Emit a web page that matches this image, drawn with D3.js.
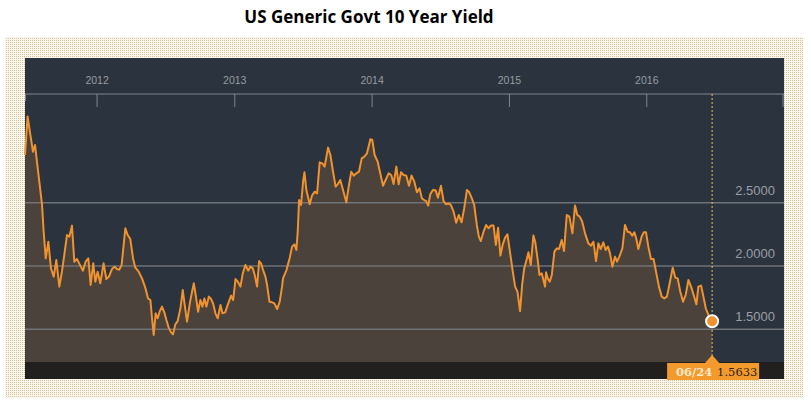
<!DOCTYPE html>
<html>
<head>
<meta charset="utf-8">
<script src="https://cdn.jsdelivr.net/npm/d3@7"></script>
<style>
  html, body { margin: 0; padding: 0; background: #ffffff; }
  svg { display: block; }
</style>
</head>
<body>
<svg id="chart" width="811" height="402"></svg>
<script>
// ---- Data (decimal year, 10Y yield %) ----
const title = "US Generic Govt 10 Year Yield";
const yearTicks = [2012, 2013, 2014, 2015, 2016];
const yieldTicks = [1.5, 2.0, 2.5];
const lastLabelDate = "06/24";
const lastLabelValue = "1.5633";

const dates = [
  2011.479, 2011.498, 2011.518, 2011.537, 2011.552, 2011.566, 2011.586, 2011.603, 2011.615, 2011.630,
  2011.649, 2011.668, 2011.688, 2011.707, 2011.729, 2011.748, 2011.765, 2011.785, 2011.802, 2011.821,
  2011.838, 2011.857, 2011.877, 2011.901, 2011.920, 2011.940, 2011.957, 2011.976, 2011.991, 2012.008,
  2012.027, 2012.051, 2012.071, 2012.090, 2012.112, 2012.131, 2012.148, 2012.165, 2012.182, 2012.209,
  2012.226, 2012.245, 2012.265, 2012.281, 2012.306, 2012.330, 2012.354, 2012.374, 2012.391, 2012.403,
  2012.415, 2012.429, 2012.444, 2012.458, 2012.475, 2012.492, 2012.507, 2012.524, 2012.541, 2012.555,
  2012.572, 2012.589, 2012.609, 2012.626, 2012.640, 2012.657, 2012.677, 2012.691, 2012.706, 2012.720,
  2012.737, 2012.754, 2012.769, 2012.783, 2012.798, 2012.815, 2012.832, 2012.846, 2012.863, 2012.880,
  2012.900, 2012.914, 2012.934, 2012.948, 2012.965, 2012.977, 2012.992, 2013.009, 2013.026, 2013.045,
  2013.062, 2013.081, 2013.101, 2013.118, 2013.135, 2013.149, 2013.166, 2013.181, 2013.195, 2013.210,
  2013.227, 2013.239, 2013.256, 2013.275, 2013.292, 2013.312, 2013.331, 2013.348, 2013.355, 2013.380,
  2013.404, 2013.421, 2013.438, 2013.452, 2013.462, 2013.472, 2013.486, 2013.501, 2013.511, 2013.525,
  2013.549, 2013.566, 2013.586, 2013.603, 2013.622, 2013.641, 2013.658, 2013.683, 2013.700, 2013.719,
  2013.738, 2013.753, 2013.772, 2013.792, 2013.816, 2013.833, 2013.852, 2013.869, 2013.889, 2013.908,
  2013.928, 2013.947, 2013.966, 2013.981, 2013.991, 2014.005, 2014.022, 2014.044, 2014.063, 2014.083,
  2014.102, 2014.124, 2014.143, 2014.160, 2014.180, 2014.197, 2014.214, 2014.233, 2014.252, 2014.272,
  2014.291, 2014.311, 2014.330, 2014.349, 2014.366, 2014.383, 2014.398, 2014.412, 2014.427, 2014.446,
  2014.466, 2014.483, 2014.505, 2014.524, 2014.543, 2014.560, 2014.577, 2014.597, 2014.616, 2014.635,
  2014.655, 2014.674, 2014.694, 2014.711, 2014.730, 2014.747, 2014.766, 2014.781, 2014.795, 2014.815,
  2014.834, 2014.851, 2014.868, 2014.888, 2014.905, 2014.921, 2014.938, 2014.955, 2014.972, 2014.989,
  2015.009, 2015.028, 2015.045, 2015.062, 2015.081, 2015.096, 2015.111, 2015.130, 2015.142, 2015.159,
  2015.178, 2015.191, 2015.208, 2015.222, 2015.239, 2015.263, 2015.270, 2015.283, 2015.297, 2015.312,
  2015.331, 2015.348, 2015.365, 2015.384, 2015.401, 2015.421, 2015.440, 2015.462, 2015.481, 2015.498,
  2015.515, 2015.532, 2015.554, 2015.578, 2015.598, 2015.615, 2015.634, 2015.651, 2015.668, 2015.687,
  2015.704, 2015.721, 2015.736, 2015.753, 2015.772, 2015.787, 2015.804, 2015.826, 2015.845, 2015.864,
  2015.881, 2015.898, 2015.913, 2015.927, 2015.942, 2015.966, 2015.981, 2015.998, 2016.015, 2016.034,
  2016.053, 2016.073, 2016.092, 2016.112, 2016.131, 2016.150, 2016.172, 2016.192, 2016.211, 2016.228,
  2016.247, 2016.267, 2016.286, 2016.306, 2016.325, 2016.344, 2016.364, 2016.378, 2016.398, 2016.415,
  2016.432, 2016.451, 2016.478
];

const yields = [
  2.877, 3.180, 3.035, 2.903, 2.956, 2.824, 2.640, 2.482, 2.271, 2.060,
  2.192, 1.982, 1.916, 2.047, 1.837, 1.955, 2.087, 2.245, 2.232, 2.319,
  2.034, 2.055, 2.013, 1.963, 2.034, 2.060, 1.850, 2.021, 1.876, 1.955,
  1.863, 2.021, 1.897, 1.916, 1.976, 1.995, 1.976, 1.971, 2.008, 2.298,
  2.245, 2.213, 2.060, 1.989, 1.955, 1.902, 1.829, 1.744, 1.731, 1.587,
  1.455, 1.626, 1.587, 1.639, 1.679, 1.634, 1.573, 1.513, 1.476, 1.460,
  1.539, 1.565, 1.666, 1.810, 1.692, 1.560, 1.705, 1.784, 1.863, 1.771,
  1.639, 1.731, 1.679, 1.744, 1.679, 1.758, 1.739, 1.705, 1.626, 1.587,
  1.692, 1.626, 1.634, 1.679, 1.731, 1.766, 1.731, 1.897, 1.876, 1.837,
  1.942, 2.008, 1.963, 1.995, 1.981, 1.929, 1.837, 2.039, 2.021, 1.968,
  1.916, 1.850, 1.718, 1.713, 1.705, 1.660, 1.718, 1.837, 1.902, 1.968,
  2.066, 2.153, 2.171, 2.126, 2.271, 2.521, 2.482, 2.666, 2.740, 2.600,
  2.487, 2.556, 2.587, 2.574, 2.819, 2.811, 2.785, 2.935, 2.877, 2.745,
  2.627, 2.645, 2.679, 2.600, 2.503, 2.627, 2.745, 2.714, 2.732, 2.745,
  2.850, 2.864, 2.890, 2.956, 3.001, 2.995, 2.877, 2.824, 2.732, 2.634,
  2.679, 2.732, 2.719, 2.648, 2.785, 2.645, 2.740, 2.719, 2.714, 2.634,
  2.714, 2.666, 2.582, 2.613, 2.534, 2.521, 2.513, 2.477, 2.566, 2.600,
  2.598, 2.540, 2.634, 2.513, 2.487, 2.495, 2.482, 2.429, 2.342, 2.403,
  2.345, 2.455, 2.600, 2.582, 2.534, 2.482, 2.324, 2.232, 2.197, 2.271,
  2.324, 2.298, 2.319, 2.319, 2.166, 2.303, 2.082, 2.171, 2.224, 2.250,
  2.100, 1.955, 1.837, 1.797, 1.644, 1.850, 1.981, 2.055, 2.108, 2.008,
  2.240, 2.192, 2.060, 1.929, 1.942, 1.837, 1.950, 1.902, 1.876, 1.929,
  2.113, 2.139, 2.134, 2.205, 2.118, 2.403, 2.390, 2.258, 2.477, 2.403,
  2.390, 2.355, 2.258, 2.179, 2.161, 2.192, 2.039, 2.179, 2.134, 2.187,
  2.126, 2.153, 2.100, 1.995, 2.074, 2.034, 2.074, 2.139, 2.324, 2.271,
  2.266, 2.240, 2.266, 2.218, 2.134, 2.232, 2.266, 2.266, 2.153, 2.055,
  2.055, 1.942, 1.837, 1.758, 1.744, 1.758, 1.876, 1.987, 1.908, 1.902,
  1.797, 1.718, 1.771, 1.889, 1.837, 1.771, 1.697, 1.837, 1.845, 1.758,
  1.666, 1.613, 1.5633
];

// ---- Helpers ----
function decYearToDate(d) {
  const y = Math.floor(d);
  const start = Date.UTC(y, 0, 1), end = Date.UTC(y + 1, 0, 1);
  return new Date(start + (d - y) * (end - start));
}
const data = dates.map((d, i) => ({ date: decYearToDate(d), value: yields[i] }));
const last = data[data.length - 1];

// ---- Layout ----
const svg = d3.select("#chart");
const panel = { left: 25, right: 784, top: 58, bottom: 379 };
const axisY = 94;
const plotBottom = 362;

const x = d3.scaleUtc()
  .domain([data[0].date, new Date(Date.UTC(2017, 0, 1))])
  .range([panel.left, panel.right]);
const y = d3.scaleLinear()
  .domain([1.5, 2.5])
  .range([329.3, 202.7]);

// dotted pattern
const defs = svg.append("defs");
const pat = defs.append("pattern")
  .attr("id", "dots").attr("width", 2).attr("height", 2)
  .attr("patternUnits", "userSpaceOnUse");
pat.append("rect").attr("width", 2).attr("height", 2).attr("fill", "#fbf6ec");
pat.append("rect").attr("width", 1).attr("height", 1).attr("fill", "#d6c29c");

svg.append("rect").attr("x", 5).attr("y", 37).attr("width", 798).attr("height", 361)
  .attr("fill", "url(#dots)");

// title
svg.append("text")
  .attr("x", 369).attr("y", 23)
  .attr("text-anchor", "middle")
  .attr("font-family", "'Liberation Sans Narrow', 'Open Sans', sans-serif")
  .attr("font-weight", "bold")
  .attr("font-size", 17)
  .attr("fill", "#000")
  .text(title);

// dark panel
svg.append("rect")
  .attr("x", panel.left).attr("y", panel.top)
  .attr("width", panel.right - panel.left).attr("height", panel.bottom - panel.top)
  .attr("fill", "#2b333e");

// bottom bar
svg.append("rect")
  .attr("x", panel.left).attr("y", plotBottom)
  .attr("width", panel.right - panel.left).attr("height", panel.bottom - plotBottom)
  .attr("fill", "#221f1f");

// area
const area = d3.area()
  .x(d => x(d.date))
  .y0(plotBottom)
  .y1(d => y(d.value));
svg.append("path").datum(data)
  .attr("d", area)
  .attr("fill", "#4b423b");

// gridlines
svg.append("g").selectAll("line").data(yieldTicks).join("line")
  .attr("x1", panel.left).attr("x2", panel.right)
  .attr("y1", d => y(d)).attr("y2", d => y(d))
  .attr("stroke", "#6f7276").attr("stroke-width", 1.5);

// y labels
svg.append("g").selectAll("text").data(yieldTicks).join("text")
  .attr("x", 775).attr("y", d => y(d) - 8)
  .attr("text-anchor", "end")
  .attr("font-family", "'Liberation Sans', Arial, sans-serif")
  .attr("font-size", 13)
  .attr("fill", "#9a9ea4")
  .text(d => d.toFixed(4));

// top time axis
const xAxis = d3.axisBottom(x)
  .tickValues(yearTicks.map(yr => new Date(Date.UTC(yr, 0, 1))))
  .tickSize(13)
  .tickFormat(d3.utcFormat("%Y"));
const gx = svg.append("g").attr("transform", `translate(0,${axisY})`).call(xAxis);
gx.select(".domain").remove();
gx.selectAll(".tick line").attr("stroke", "#80858b").attr("stroke-width", 1);
gx.selectAll(".tick text")
  .attr("y", -10).attr("dy", 0)
  .attr("font-family", "'Liberation Sans', Arial, sans-serif")
  .attr("font-size", 10.5)
  .attr("fill", "#979ca3");
svg.append("line")
  .attr("x1", panel.left).attr("x2", panel.right)
  .attr("y1", axisY).attr("y2", axisY)
  .attr("stroke", "#80858b").attr("stroke-width", 1);
svg.append("line")
  .attr("x1", x.range()[1] - 1).attr("x2", x.range()[1] - 1)
  .attr("y1", axisY).attr("y2", axisY + 13)
  .attr("stroke", "#80858b");
svg.append("line")
  .attr("x1", panel.left + 0.5).attr("x2", panel.left + 0.5)
  .attr("y1", axisY).attr("y2", axisY + 7)
  .attr("stroke", "#80858b");

// line
const line = d3.line().x(d => x(d.date)).y(d => y(d.value));
svg.append("path").datum(data)
  .attr("d", line)
  .attr("fill", "none")
  .attr("stroke", "#f0922e")
  .attr("stroke-width", 2)
  .attr("stroke-linejoin", "round");

// dashed vertical marker line
const lx = x(last.date);
svg.append("line")
  .attr("x1", lx).attr("x2", lx)
  .attr("y1", axisY).attr("y2", plotBottom)
  .attr("stroke", "#e8c24a").attr("stroke-width", 1)
  .attr("stroke-dasharray", "2,2");

// end marker
svg.append("circle")
  .attr("cx", lx).attr("cy", y(last.value)).attr("r", 6)
  .attr("fill", "#f0922e").attr("stroke", "#ffffff").attr("stroke-width", 2);

// label box
const box = { x: lx - 45, y: 363, w: 92, h: 17 };
svg.append("path")
  .attr("d", `M${lx - 8},${box.y + 1} L${lx},${box.y - 8} L${lx + 8},${box.y + 1} Z`)
  .attr("fill", "#f39a2e");
svg.append("rect")
  .attr("x", box.x).attr("y", box.y).attr("width", box.w).attr("height", box.h)
  .attr("fill", "#f39a2e");
svg.append("text")
  .attr("x", lx - 36).attr("y", box.y + 13)
  .attr("font-family", "'DejaVu Serif', Georgia, serif")
  .attr("font-size", 11.5)
  .attr("font-weight", "bold")
  .attr("fill", "#fde8cc")
  .text(lastLabelDate);
svg.append("text")
  .attr("x", lx + 5).attr("y", box.y + 13)
  .attr("font-family", "'DejaVu Serif', Georgia, serif")
  .attr("font-size", 11.5)
  .attr("fill", "#2e1f10")
  .text(lastLabelValue);
</script>
</body>
</html>
